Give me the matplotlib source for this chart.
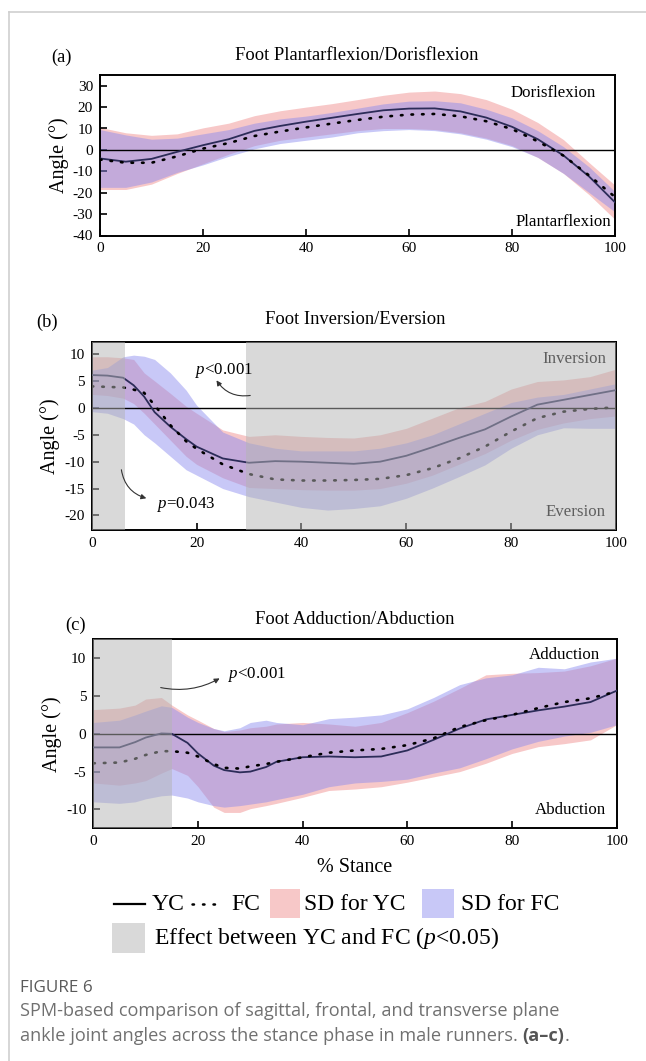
import matplotlib
matplotlib.use("Agg")
import matplotlib.pyplot as plt
from matplotlib.patches import Rectangle, FancyArrowPatch
from matplotlib.lines import Line2D

plt.rcParams['font.family'] = ['Liberation Serif', 'DejaVu Serif']
plt.rcParams['axes.unicode_minus'] = False
plt.rcParams['mathtext.fontset'] = 'custom'
plt.rcParams['mathtext.rm'] = 'Liberation Serif'
plt.rcParams['mathtext.it'] = 'Liberation Serif:italic'

# ---------------- data ----------------
# Panel (a) Foot Plantarflexion/Dorisflexion
XA = [0, 5, 10, 15, 20, 25, 30, 35, 40, 45, 50, 55, 60, 65, 70, 75, 80, 85, 90, 95, 100]
YC_A = [-4.0, -5.5, -4.2, -0.9, 2.2, 5.0, 8.9, 11.2, 13.2, 15.0, 16.8, 18.5, 19.3, 19.4, 18.0, 15.1, 10.8, 5.0, -2.6, -12.5, -24.5]
FC_A = [-4.5, -6.0, -6.0, -3.0, 0.6, 3.2, 6.5, 8.6, 10.5, 12.3, 14.0, 15.5, 16.5, 16.8, 15.7, 13.4, 9.7, 4.0, -2.7, -12.0, -22.0]
YC_UP_A = [10.5, 8.0, 6.8, 7.5, 10.3, 12.5, 16.0, 18.3, 20.0, 21.6, 23.5, 25.5, 27.0, 27.5, 26.3, 23.5, 19.0, 12.8, 4.8, -6.0, -16.5]
YC_LO_A = [-18.5, -18.5, -16.0, -11.0, -6.5, -2.0, 2.0, 4.5, 6.0, 7.5, 9.0, 10.0, 10.0, 9.5, 8.0, 5.5, 2.0, -3.5, -11.0, -21.0, -32.5]
FC_UP_A = [9.5, 7.0, 5.0, 5.5, 7.5, 9.5, 12.5, 14.5, 15.8, 17.5, 19.5, 21.5, 22.8, 23.0, 22.0, 19.0, 15.0, 9.0, 1.5, -8.0, -19.5]
FC_LO_A = [-17.5, -17.5, -15.0, -10.5, -7.0, -3.0, 0.5, 3.0, 4.5, 6.0, 8.0, 9.0, 9.5, 9.0, 7.5, 5.0, 1.5, -3.5, -11.0, -20.0, -29.0]

# Panel (b) Foot Inversion/Eversion
XB = [0, 3, 6, 8, 10, 12, 15, 18, 20, 25, 30, 35, 40, 45, 50, 55, 60, 65, 70, 75, 80, 85, 90, 95, 100]
YC_B = [6.1, 6.0, 5.6, 4.2, 2.1, -0.8, -3.5, -5.8, -7.2, -9.4, -10.2, -9.9, -10.0, -10.2, -10.4, -10.0, -8.9, -7.3, -5.6, -4.0, -1.6, 0.6, 1.5, 2.4, 3.3]
FC_B = [4.0, 3.9, 3.8, 3.4, 2.8, 0.5, -3.2, -6.2, -7.6, -10.5, -12.3, -13.3, -13.5, -13.5, -13.4, -13.2, -12.5, -11.2, -9.4, -7.2, -4.4, -1.9, -0.7, -0.2, 0.1]
YC_UP_B = [9.5, 9.5, 9.3, 9.0, 6.5, 5.0, 2.7, 0.3, -1.0, -4.1, -5.3, -5.0, -5.3, -5.5, -5.6, -5.0, -3.8, -1.9, 0.0, 1.2, 3.5, 4.9, 5.2, 5.8, 7.2]
YC_LO_B = [2.5, 2.3, 1.8, 0.8, -1.0, -3.0, -6.0, -9.0, -10.5, -13.0, -14.8, -15.0, -15.2, -15.3, -15.3, -15.0, -14.0, -12.5, -10.5, -8.5, -6.0, -4.0, -2.8, -2.0, -1.5]
FC_UP_B = [7.0, 7.5, 9.5, 9.8, 9.6, 9.0, 6.5, 3.3, 0.5, -4.5, -6.5, -7.5, -8.0, -8.0, -8.0, -7.5, -6.5, -5.0, -3.0, -1.0, 1.0, 2.0, 2.5, 3.5, 4.5]
FC_LO_B = [-0.7, -1.0, -2.0, -3.0, -5.0, -6.5, -9.0, -11.5, -12.5, -15.0, -16.5, -17.5, -18.5, -19.0, -18.7, -18.2, -16.8, -14.9, -12.8, -10.6, -7.5, -5.0, -3.7, -3.8, -3.8]
SIG_B = [(0, 6.3), (29.4, 100)]

# Panel (c) Foot Adduction/Abduction
XC = [0, 5, 8, 10, 13, 15, 18, 20, 23, 25, 28, 30, 33, 35, 40, 45, 50, 55, 60, 65, 70, 75, 80, 85, 90, 95, 100]
YC_C = [-1.8, -1.8, -1.1, -0.5, 0.05, 0.0, -1.2, -2.6, -4.2, -4.8, -5.1, -5.0, -4.4, -3.7, -3.1, -3.0, -3.1, -3.0, -2.2, -0.8, 0.7, 1.9, 2.5, 3.1, 3.6, 4.2, 5.7]
FC_C = [-3.9, -3.8, -3.3, -2.8, -2.3, -2.3, -2.5, -3.0, -4.0, -4.5, -4.6, -4.3, -4.0, -3.7, -3.1, -2.5, -2.2, -2.0, -1.5, -0.6, 0.9, 1.8, 2.5, 3.4, 4.2, 4.7, 5.6]
YC_UP_C = [3.2, 3.4, 3.8, 4.6, 4.8, 3.8, 2.5, 1.8, 0.7, 0.3, 0.5, 0.8, 1.0, 1.3, 1.5, 1.3, 1.0, 1.5, 2.8, 4.3, 6.0, 7.8, 8.0, 8.1, 8.3, 9.0, 10.0]
YC_LO_C = [-6.5, -6.8, -6.5, -6.2, -5.2, -4.6, -5.5, -7.0, -9.7, -10.4, -10.4, -9.9, -9.5, -9.2, -8.4, -7.5, -7.3, -7.0, -6.4, -5.7, -5.0, -3.9, -2.6, -1.7, -1.3, -0.8, 1.2]
FC_UP_C = [1.5, 1.8, 2.5, 3.0, 3.7, 3.5, 2.2, 1.5, 0.7, 0.4, 0.8, 1.5, 1.8, 1.5, 1.2, 2.0, 2.2, 2.5, 3.3, 4.8, 6.5, 7.4, 7.8, 8.8, 8.6, 9.5, 10.0]
FC_LO_C = [-9.0, -9.2, -9.0, -8.6, -8.2, -8.1, -8.5, -9.0, -9.5, -9.7, -9.5, -9.3, -9.0, -8.7, -8.0, -7.0, -6.5, -6.3, -6.0, -5.2, -4.5, -3.3, -2.0, -1.0, -0.3, 0.2, 1.2]
SIG_C = [(0, 15.0)]

XTICKS = [0, 20, 40, 60, 80, 100]
YTICKS_A = [30, 20, 10, 0, -10, -20, -30, -40]
YTICKS_B = [10, 5, 0, -5, -10, -15, -20]
YTICKS_C = [10, 5, 0, -5, -10]

TITLES = ["Foot Plantarflexion/Dorisflexion", "Foot Inversion/Eversion", "Foot Adduction/Abduction"]
PANEL_TAGS = ["(a)", "(b)", "(c)"]

# ---------------- style ----------------
W, H = 646, 1061
PINK = '#f08a8a'
BLUE = '#8a8af0'
BAND_ALPHA = 0.47
YC_COLOR = '#2c2c58'
GREY_OVER = '#b4b4b4'
DOTS = (0, (0.6, 3.4))

fig = plt.figure(figsize=(W / 100, H / 100), dpi=100)


def fx(px):
    return px / W


def fy(py):
    return 1 - py / H


def make_axes(l, t, r, b):
    return fig.add_axes([fx(l), fy(b), (r - l) / W, (b - t) / H])


def draw_panel(ax, x, yc, fc, yup, ylo, fup, flo, ylim, yticks, sig):
    ax.fill_between(x, ylo, yup, color=PINK, alpha=BAND_ALPHA, lw=0, zorder=1)
    ax.fill_between(x, flo, fup, color=BLUE, alpha=BAND_ALPHA, lw=0, zorder=2)
    ax.axhline(0, color='black', lw=1.0, zorder=3)
    ax.plot(x, yc, color=YC_COLOR, lw=1.3, zorder=4)
    ax.plot(x, fc, color='black', lw=1.9, linestyle=DOTS,
            dash_capstyle='round', zorder=4)
    for s0, s1 in sig:
        ax.axvspan(s0, s1, color=GREY_OVER, alpha=0.5, lw=0, zorder=5)
    ax.set_xlim(0, 100)
    ax.set_ylim(*ylim)
    ax.set_xticks(XTICKS)
    ax.set_yticks(yticks)
    ax.tick_params(direction='in', length=5, width=1.2, labelsize=11, pad=5)
    for s in ax.spines.values():
        s.set_linewidth(1.4)
    ax.set_ylabel('Angle (°)', fontsize=14.5, labelpad=3)


axA = make_axes(100, 75, 615, 235.5)
draw_panel(axA, XA, YC_A, FC_A, YC_UP_A, YC_LO_A, FC_UP_A, FC_LO_A,
           (-40, 35), YTICKS_A, [])
axB = make_axes(91.7, 341.7, 616, 530)
draw_panel(axB, XB, YC_B, FC_B, YC_UP_B, YC_LO_B, FC_UP_B, FC_LO_B,
           (-22.7, 12.3), YTICKS_B, SIG_B)
axC = make_axes(93.3, 639.3, 616.7, 828.3)
draw_panel(axC, XC, YC_C, FC_C, YC_UP_C, YC_LO_C, FC_UP_C, FC_LO_C,
           (-12.5, 12.5), YTICKS_C, SIG_C)

axC.set_xlabel('% Stance', fontsize=14.5, labelpad=7)

# titles and tags
for (tag, title, tx, ty, px, py) in [
        (PANEL_TAGS[0], TITLES[0], 357, 56, 62, 57),
        (PANEL_TAGS[1], TITLES[1], 355, 320, 47, 322),
        (PANEL_TAGS[2], TITLES[2], 355, 619, 76, 625)]:
    fig.text(fx(tx), fy(ty), title, ha='center', va='center', fontsize=13.3)
    fig.text(fx(px), fy(py), tag, ha='center', va='center', fontsize=13.3)

# direction labels
fig.text(fx(596), fy(93), 'Dorisflexion', ha='right', va='center', fontsize=12.2)
fig.text(fx(611), fy(222), 'Plantarflexion', ha='right', va='center', fontsize=12.2)
fig.text(fx(606), fy(359), 'Inversion', ha='right', va='center', fontsize=12.2, color='#5e5e5e')
fig.text(fx(606), fy(512), 'Eversion', ha='right', va='center', fontsize=12.2, color='#5e5e5e')
fig.text(fx(600), fy(655), 'Adduction', ha='right', va='center', fontsize=12.2)
fig.text(fx(606), fy(810), 'Abduction', ha='right', va='center', fontsize=12.2)


# p-value annotations with curved arrows
def parrow(text, tx, ty, tail, head, rad):
    fig.text(fx(tx), fy(ty), text, ha='center', va='center', fontsize=12.2)
    fig.add_artist(FancyArrowPatch(
        (fx(tail[0]), fy(tail[1])), (fx(head[0]), fy(head[1])),
        transform=fig.transFigure, arrowstyle='-|>,head_length=3,head_width=1.5',
        connectionstyle='arc3,rad=%s' % rad, lw=0.8, color='#333333'))


parrow('$p$<0.001', 224, 370, (253, 395), (215, 378), -0.35)
parrow('$p$=0.043', 186, 505, (121, 467), (149, 499), 0.35)
parrow('$p$<0.001', 257, 674, (158, 687), (222, 677), 0.2)

# legend (figure-level, manual)
LEG_FS = 17
y1, y2 = 904, 938
fig.add_artist(Line2D([fx(114), fx(145)], [fy(y1), fy(y1)], color='black', lw=1.6,
                      transform=fig.transFigure))
fig.text(fx(152), fy(y1), 'YC', ha='left', va='center', fontsize=LEG_FS)
fig.add_artist(Line2D([fx(192), fx(220)], [fy(y1), fy(y1)], color='black', lw=1.8,
                      linestyle=(0, (0.6, 3.6)), dash_capstyle='round',
                      transform=fig.transFigure))
fig.text(fx(231), fy(y1), 'FC', ha='left', va='center', fontsize=LEG_FS)
fig.add_artist(Rectangle((fx(270), fy(918)), 30 / W, 29 / H, transform=fig.transFigure,
                         facecolor=PINK, alpha=BAND_ALPHA, lw=0))
fig.text(fx(304), fy(y1), 'SD for YC', ha='left', va='center', fontsize=LEG_FS)
fig.add_artist(Rectangle((fx(422), fy(918)), 32 / W, 29 / H, transform=fig.transFigure,
                         facecolor=BLUE, alpha=BAND_ALPHA, lw=0))
fig.text(fx(461), fy(y1), 'SD for FC', ha='left', va='center', fontsize=LEG_FS)
fig.add_artist(Rectangle((fx(112), fy(953)), 33 / W, 30 / H, transform=fig.transFigure,
                         facecolor=GREY_OVER, alpha=0.5, lw=0))
fig.text(fx(154), fy(y2), 'Effect between YC and FC ($p$<0.05)', ha='left', va='center',
         fontsize=LEG_FS)

# frame lines
fig.add_artist(Line2D([fx(9), fx(646)], [fy(12), fy(12)], color='#cfcfcf', lw=1.2,
                      transform=fig.transFigure))
fig.add_artist(Line2D([fx(9), fx(9)], [fy(12), fy(1061)], color='#cfcfcf', lw=1.2,
                      transform=fig.transFigure))

# caption
CAP_FONT = ['Open Sans', 'DejaVu Sans']
CAP_FS = 13.1
fig.text(fx(20), fy(988), 'FIGURE 6', ha='left', va='center', fontsize=12.3,
         color='#5a5a5a', family=CAP_FONT)
fig.text(fx(20), fy(1011), 'SPM-based comparison of sagittal, frontal, and transverse plane',
         ha='left', va='center', fontsize=CAP_FS, color='#707070', family=CAP_FONT)
t1 = fig.text(fx(20), fy(1036), 'ankle joint angles across the stance phase in male runners. ',
              ha='left', va='center', fontsize=CAP_FS, color='#707070', family=CAP_FONT)
fig.canvas.draw()
bb = t1.get_window_extent()
t2 = fig.text(bb.x1 / W, fy(1036), '(a–c)', ha='left', va='center', fontsize=CAP_FS,
              color='#555555', family=CAP_FONT, weight='bold')
fig.canvas.draw()
bb2 = t2.get_window_extent()
fig.text(bb2.x1 / W, fy(1036), '.', ha='left', va='center', fontsize=CAP_FS,
         color='#707070', family=CAP_FONT)

fig.savefig('out.png', dpi=100)
